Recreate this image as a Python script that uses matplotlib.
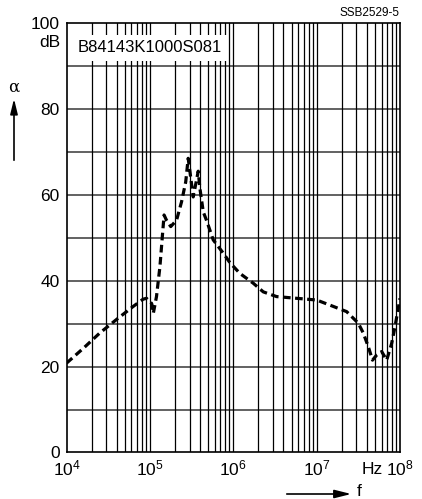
import matplotlib
matplotlib.use("Agg")
import matplotlib.pyplot as plt
import numpy as np

plt.rcParams["font.family"] = ["Liberation Sans", "DejaVu Sans"]
plt.rcParams["mathtext.fontset"] = "custom"
plt.rcParams["mathtext.rm"] = "Liberation Sans"

# insertion loss curve
freq_hz = [
    1.0e4, 1.6e4, 2.5e4, 4.0e4, 6.3e4, 8.3e4, 9.1e4, 1.05e5, 1.1e5, 1.2e5,
    1.32e5, 1.42e5, 1.48e5, 1.58e5, 1.78e5, 2.09e5, 2.4e5, 2.69e5, 2.88e5,
    3.09e5, 3.31e5, 3.59e5, 3.8e5, 3.98e5, 4.37e5, 4.79e5, 5.75e5, 7.59e5,
    9.12e5, 1.2e6, 1.74e6, 2.29e6, 3.31e6, 5.75e6, 1.0e7, 1.45e7, 2.29e7,
    3.16e7, 3.63e7, 4.17e7, 4.68e7, 5.25e7, 6.03e7, 6.92e7, 7.94e7, 8.71e7,
    1.0e8,
]
alpha_db = [
    20.8, 24.3, 27.8, 31.0, 34.0, 35.7, 35.9, 34.7, 32.4, 36.3,
    43.3, 51.0, 55.3, 54.1, 52.6, 54.1, 58.4, 63.0, 68.5,
    64.0, 59.5, 63.0, 65.5, 61.5, 56.0, 54.0, 49.5, 46.4,
    44.2, 41.7, 39.4, 37.4, 36.3, 35.9, 35.5, 34.3, 32.8,
    30.1, 27.8, 24.6, 21.5, 22.7, 23.5, 21.5, 25.4, 29.3,
    35.9,
]

x_ticks = [1e4, 1e5, 1e6, 1e7, 1e8]
x_ticklabels = [r"$\mathregular{10^4}$", r"$\mathregular{10^5}$", r"$\mathregular{10^6}$",
                r"$\mathregular{10^7}$", r"$\mathregular{10^8}$"]
y_ticks = [0, 20, 40, 60, 80, 100]
part_number = "B84143K1000S081"
doc_id = "SSB2529-5"

fig = plt.figure(figsize=(4.22, 4.99), dpi=100)
ax = fig.add_axes([0.1576, 0.0932, 0.7903, 0.8607])

ax.plot(freq_hz, alpha_db, color="black", lw=2.3, dashes=(2.4, 1.4), zorder=4)

ax.set_xscale("log")
ax.set_xlim(1e4, 1e8)
ax.set_ylim(0, 100)

# grid: every 10 dB, every integer multiple per decade
for y in range(10, 100, 10):
    ax.axhline(y, color="#555555", lw=1.3, zorder=1)
for dec in range(4, 8):
    for m in range(2, 11):
        if m == 10 and dec == 7:
            continue
        ax.axvline(m * 10.0**dec, color="black", lw=0.9, zorder=1)

ax.set_xticks(x_ticks)
ax.set_xticklabels(x_ticklabels, fontsize=12.5)
ax.set_xticks([], minor=True)
ax.set_yticks(y_ticks)
ax.set_yticklabels([str(v) for v in y_ticks], fontsize=12.5)
ax.tick_params(axis="both", length=0)
ax.tick_params(axis="x", pad=4.5)
ax.tick_params(axis="y", pad=5)
for s in ax.spines.values():
    s.set_linewidth(1.2)

ax.text(0.034, 0.942, part_number, transform=ax.transAxes, fontsize=12,
        va="center", ha="left", zorder=3,
        bbox=dict(boxstyle="square,pad=0.35", fc="white", ec="none"))

ax.text(-0.017, 0.955, "dB", transform=ax.transAxes, fontsize=12.5,
        ha="right", va="center")
ax.text(0.916, -0.022, "Hz", transform=ax.transAxes, fontsize=12.5,
        ha="center", va="top")
fig.text(400 / 422, 1 - 13 / 499, doc_id, fontsize=8.5, ha="right", va="center")

# axis arrows
fig.text(14 / 422, 1 - 87 / 499, "α", fontsize=12, ha="center", va="center",
         family=["DejaVu Serif"])
ax.annotate("", xy=(14 / 422, 1 - 96 / 499), xytext=(14 / 422, 1 - 163 / 499),
            xycoords="figure fraction", textcoords="figure fraction",
            arrowprops=dict(arrowstyle="-|>,head_length=0.9,head_width=0.22",
                            color="black", lw=1.2))
ax.annotate("", xy=(354 / 422, 1 - 494 / 499), xytext=(284 / 422, 1 - 494 / 499),
            xycoords="figure fraction", textcoords="figure fraction",
            arrowprops=dict(arrowstyle="-|>,head_length=1.0,head_width=0.25",
                            color="black", lw=1.2))
fig.text(357 / 422, 1 - 492 / 499, "f", fontsize=12.5, ha="left", va="center")

fig.savefig("out.png", dpi=100)
